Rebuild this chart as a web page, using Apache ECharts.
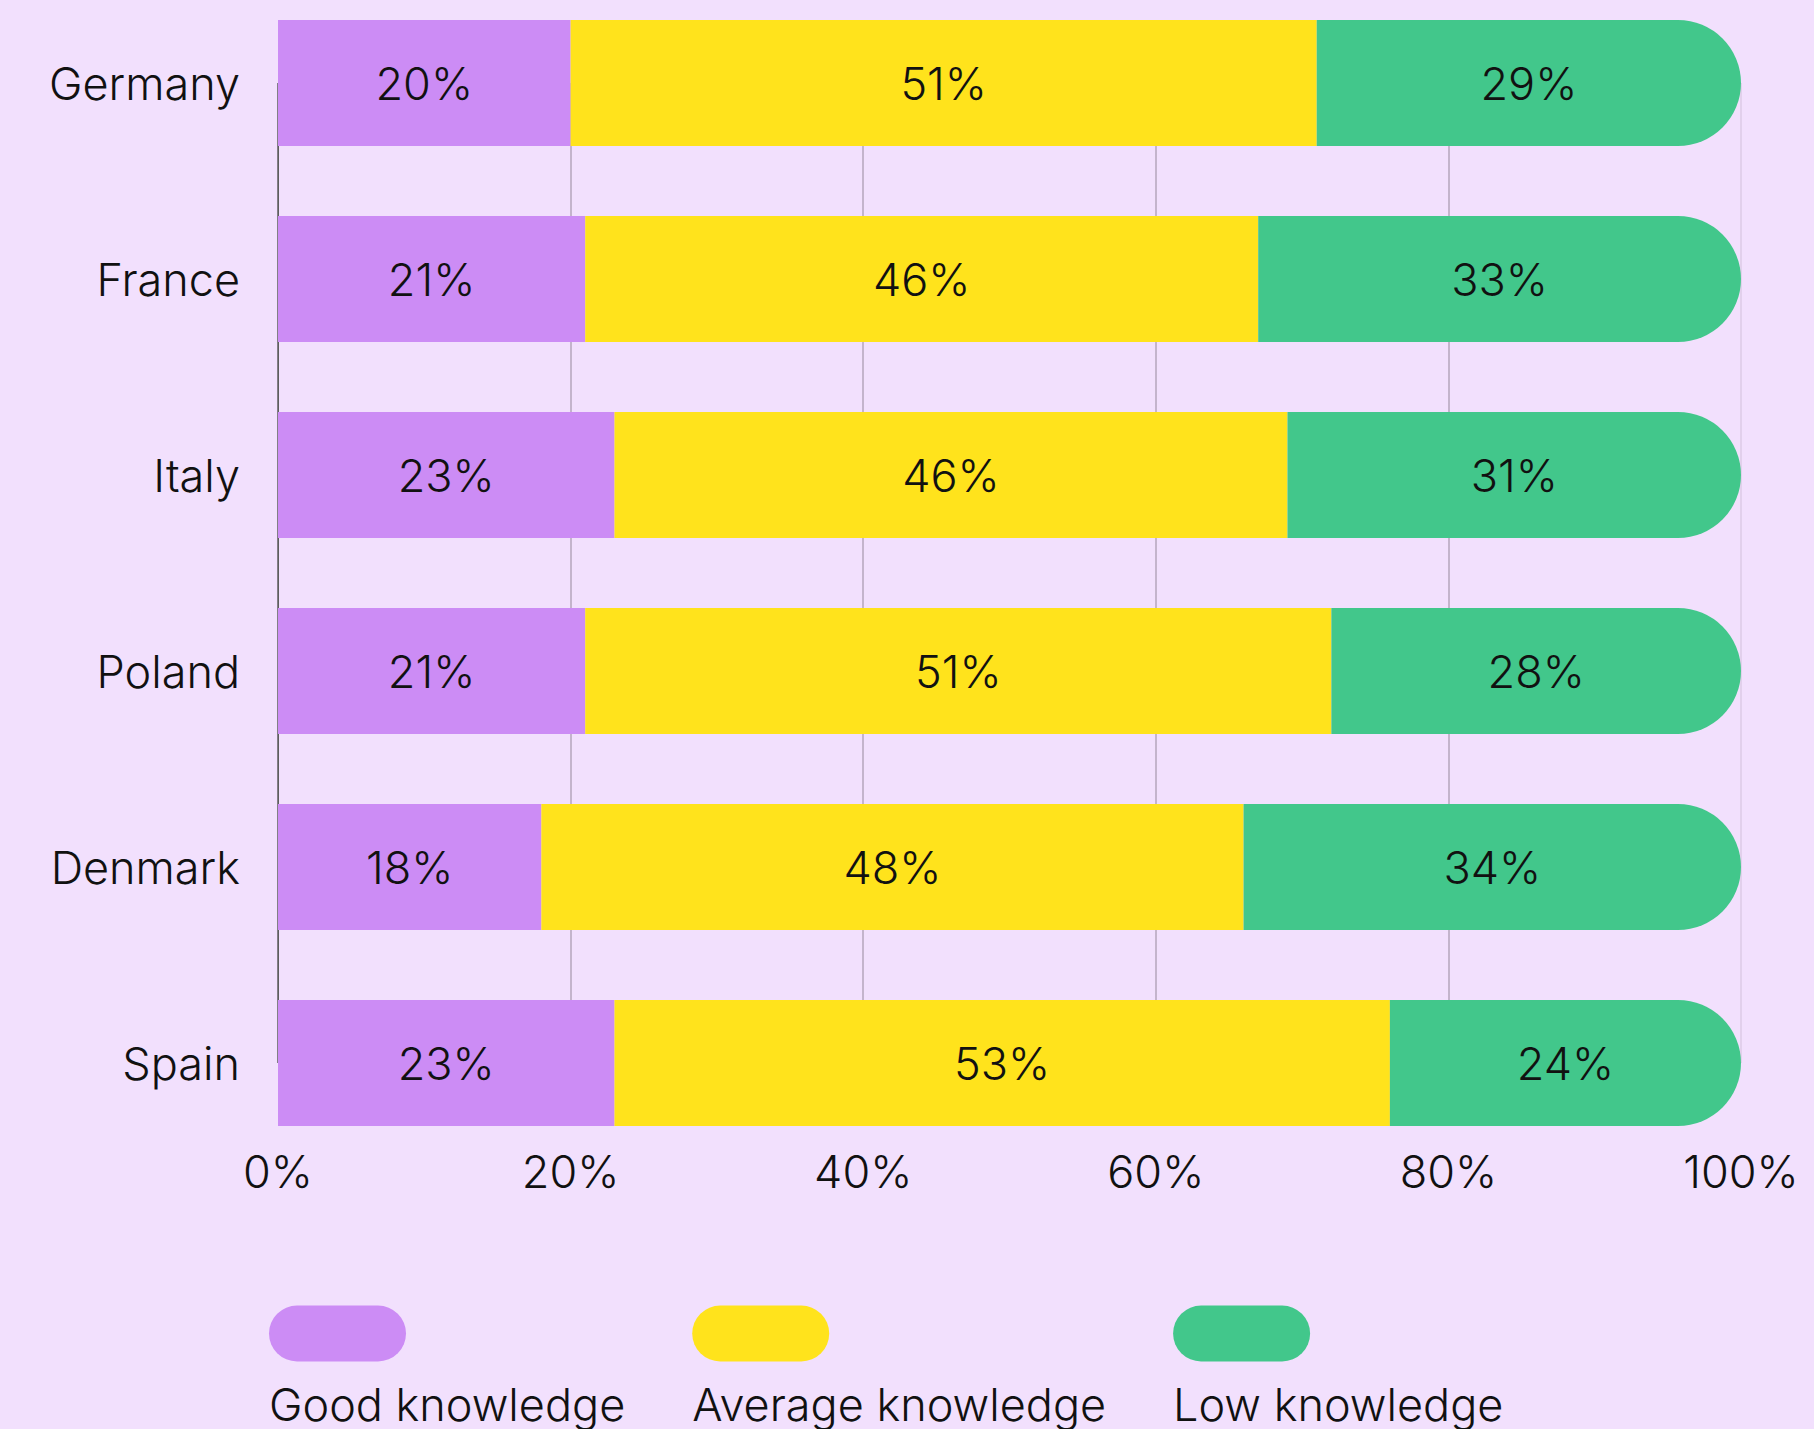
<!DOCTYPE html>
<html>
<head>
<meta charset="utf-8">
<script src="https://cdn.jsdelivr.net/npm/echarts@6/dist/echarts.min.js"></script>
<style>
  html, body { margin: 0; padding: 0; background: #f2e0fd; }
  #content_data { width: 1814px; height: 1429px; }
</style>
</head>
<body>
<div id="content_data"></div>
<script>
const countries = ['Germany', 'France', 'Italy', 'Poland', 'Denmark', 'Spain'];
const good_knowledge = [20, 21, 23, 21, 18, 23];
const average_knowledge = [51, 46, 46, 51, 48, 53];
const low_knowledge = [29, 33, 31, 28, 34, 24];
const series_names = ['Good knowledge', 'Average knowledge', 'Low knowledge'];
const x_ticks = [0, 20, 40, 60, 80, 100];

const font = 'Inter, "Liberation Sans", sans-serif';
const weight = 300;
const colors = ['#cc8cf5', '#ffe31c', '#42c78b'];

const Make_Chart = () => {
    let Chart = echarts.init(document.getElementById('content_data'), null, { renderer: 'svg' });

    const seg_label = {
        show: true,
        position: 'inside',
        formatter: '{c}%',
        color: '#111',
        fontFamily: font,
        fontWeight: weight,
        fontSize: 45
    };

    Chart.setOption({
        backgroundColor: '#f2e0fd',
        animation: false,
        grid: {
            left: 278,
            right: 73,
            top: 83,
            bottom: 366,
            containLabel: false
        },
        // text sits under the pill: 3 lines of 71 centred on the icon, so the box starts ~80px above it
        legend: {
            data: series_names,
            left: 264,
            top: 1222,
            orient: 'horizontal',
            itemWidth: 137,
            itemHeight: 56,
            itemGap: 67,
            icon: 'path://M28,0 H109 A28,28 0 0 1 109,56 H28 A28,28 0 0 1 28,0 Z',
            formatter: name => '\n\n' + name,
            textStyle: {
                color: '#111',
                fontFamily: font,
                fontWeight: weight,
                fontSize: 45,
                lineHeight: 71,
                padding: [0, 0, 0, -142]
            }
        },
        xAxis: {
            type: 'value',
            min: x_ticks[0],
            max: x_ticks[x_ticks.length - 1],
            interval: 20,
            axisLine: { show: false },
            axisTick: { show: false },
            axisLabel: {
                formatter: '{value}%',
                color: '#111',
                fontFamily: font,
                fontWeight: weight,
                fontSize: 45,
                margin: 86
            },
            splitLine: {
                show: true,
                lineStyle: {
                    color: ['#5e5e5e', '#b4a6bb', '#b4a6bb', '#b4a6bb', '#b4a6bb', '#dccbe6'],
                    width: 1.5
                }
            }
        },
        yAxis: {
            type: 'category',
            data: countries,
            inverse: true,
            boundaryGap: false,
            axisLine: { show: true, lineStyle: { color: '#5e5e5e', width: 1 } },
            axisTick: { show: false },
            splitLine: { show: false },
            axisLabel: {
                color: '#111',
                fontFamily: font,
                fontWeight: weight,
                fontSize: 45,
                margin: 38
            }
        },
        series: [
            {
                name: series_names[0],
                type: 'bar',
                stack: 'total',
                barWidth: 126,
                itemStyle: { color: colors[0] },
                label: seg_label,
                data: good_knowledge
            },
            {
                name: series_names[1],
                type: 'bar',
                stack: 'total',
                barWidth: 126,
                itemStyle: { color: colors[1] },
                label: seg_label,
                data: average_knowledge
            },
            {
                name: series_names[2],
                type: 'bar',
                stack: 'total',
                barWidth: 126,
                itemStyle: { color: colors[2], borderRadius: [0, 63, 63, 0] },
                label: seg_label,
                data: low_knowledge
            }
        ]
    });
};

Make_Chart();
</script>
</body>
</html>
